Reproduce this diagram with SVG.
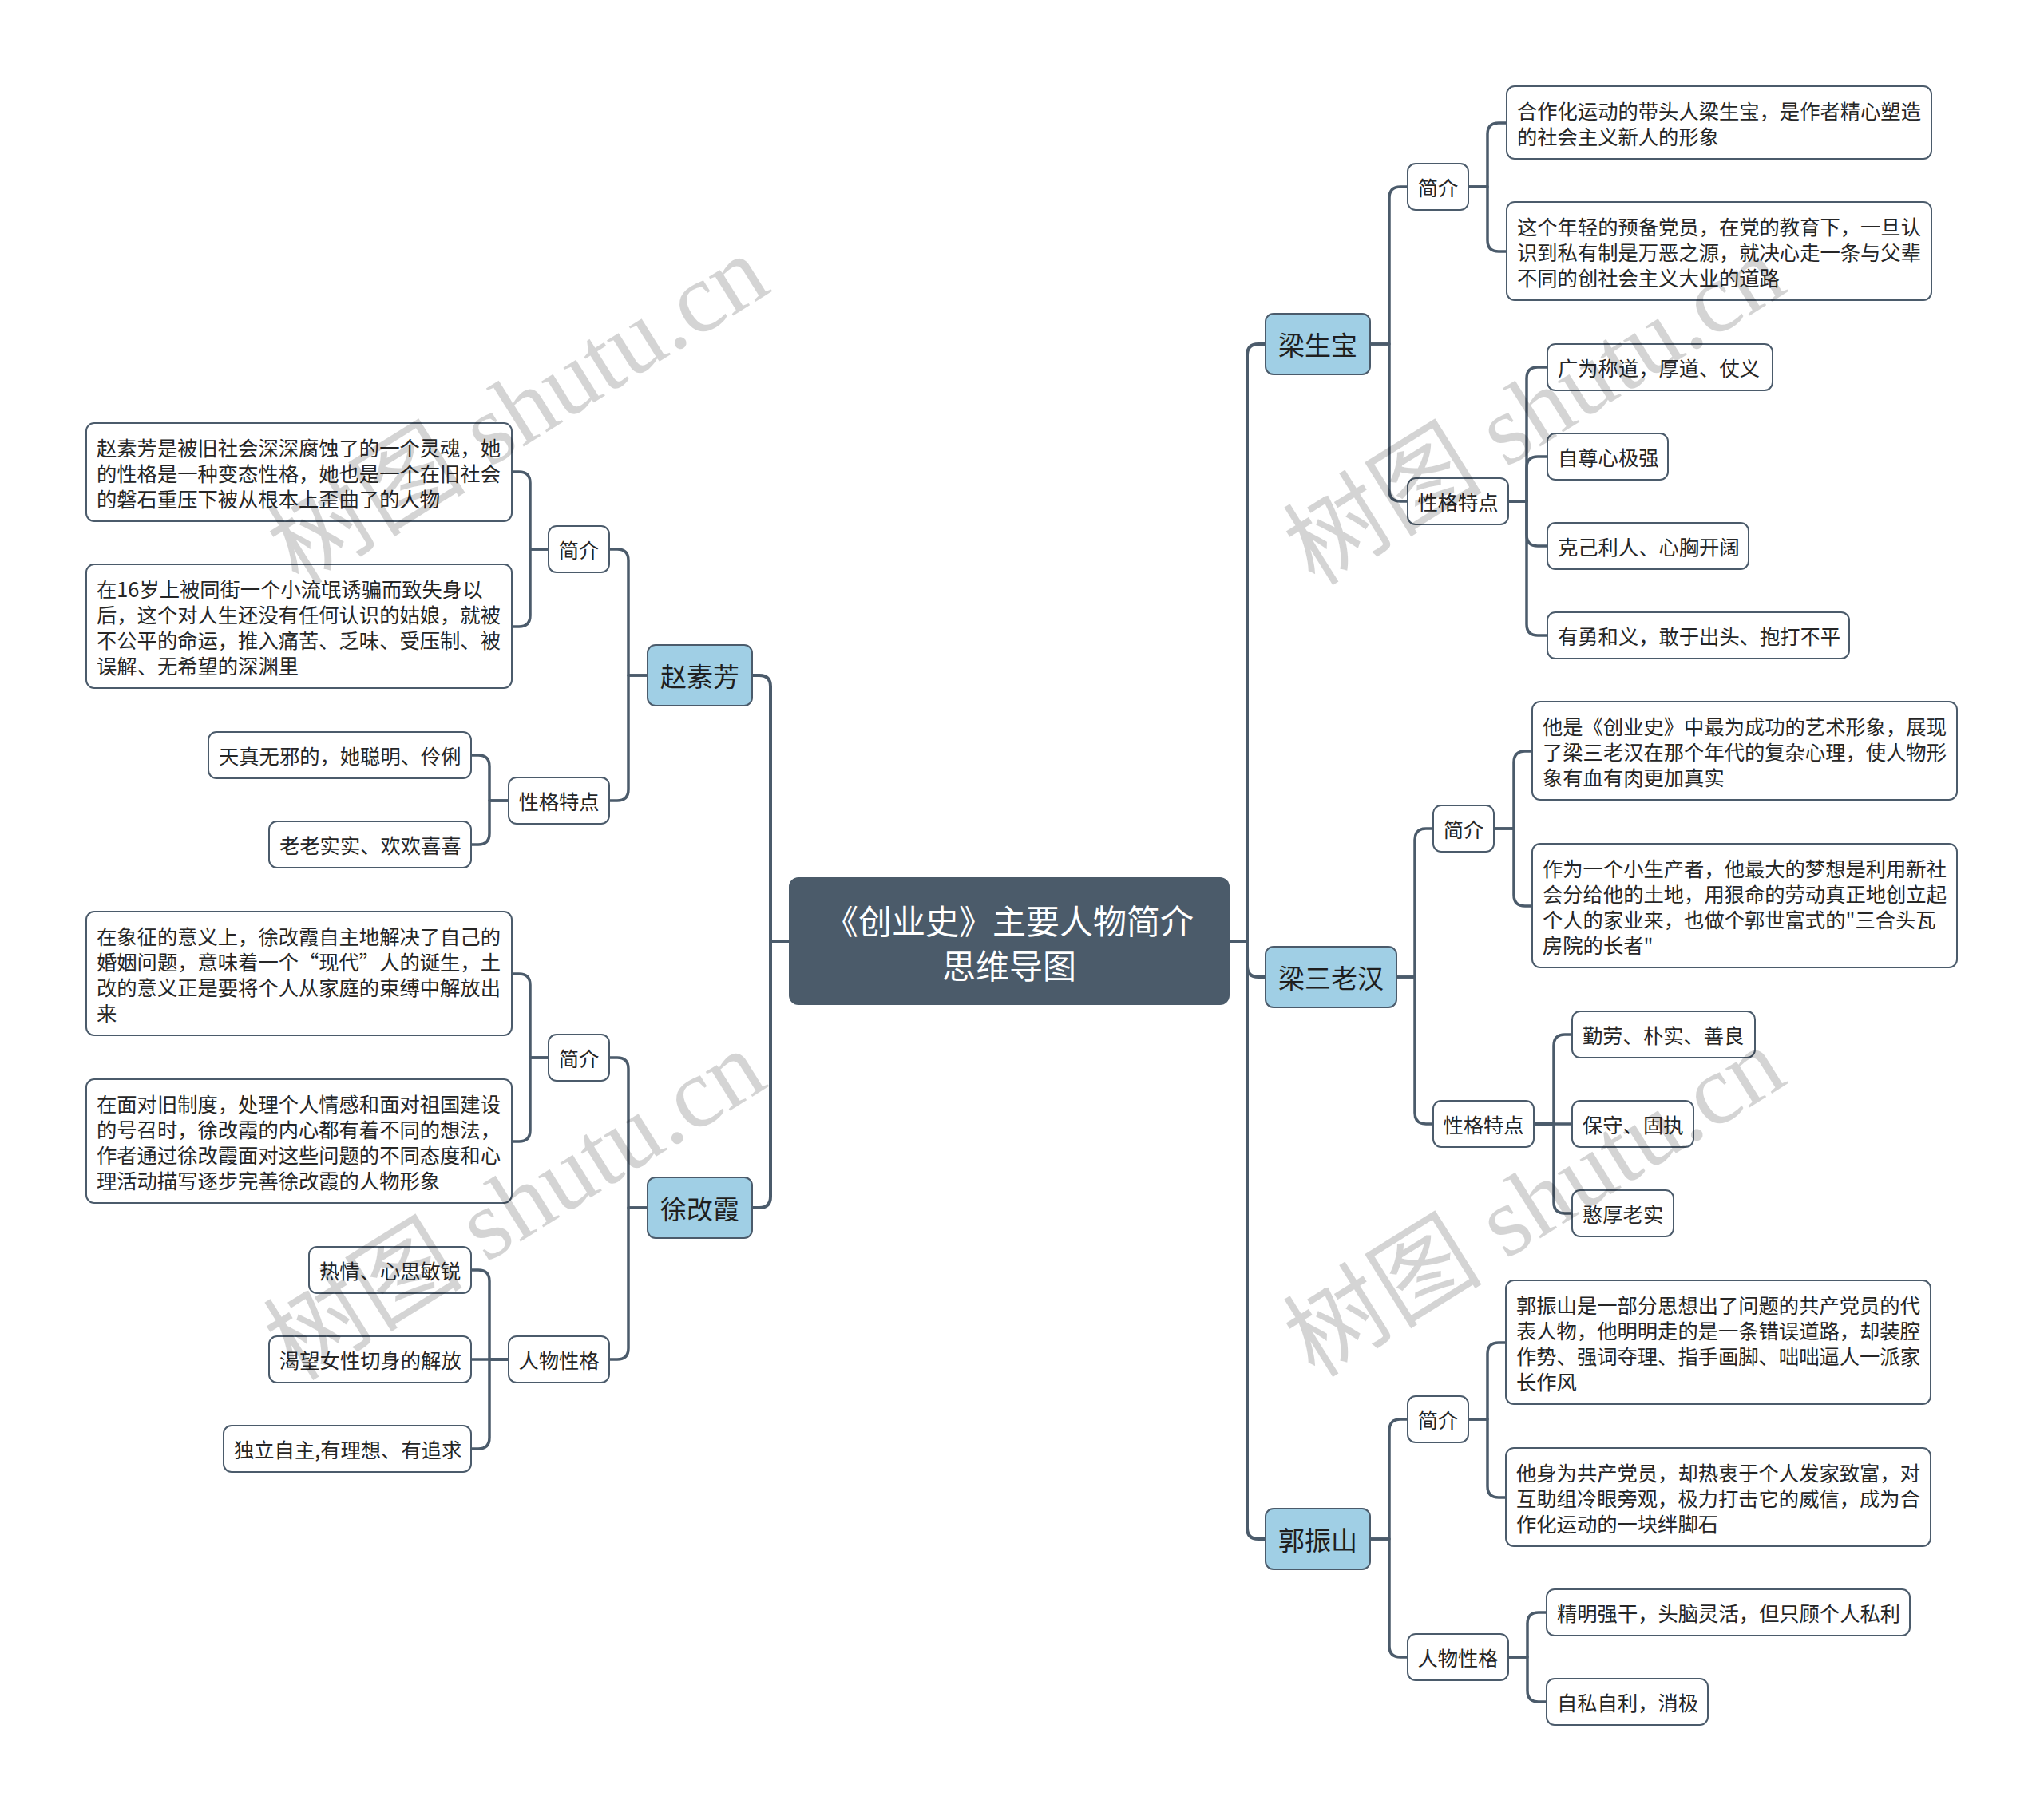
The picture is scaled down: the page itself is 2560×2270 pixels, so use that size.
<svg xmlns="http://www.w3.org/2000/svg" width="2560" height="2270" viewBox="0 0 2560 2270">
<style>
.bg{fill:#ffffff}
.conn path{fill:none;stroke:#4b5b6b;stroke-width:3.5;stroke-linejoin:round}
.conn path.trunk{stroke-width:4}
.leaf rect,.sub rect{fill:#ffffff;stroke:#4b5b6b;stroke-width:2}
.main rect{fill:#a0cfe5;stroke:#4b5b6b;stroke-width:2}
.root rect{fill:#4b5b6a}
text{font-family:"Noto Sans CJK SC","Noto Sans",sans-serif;dominant-baseline:central}
.t{font-size:25.3px;fill:#262626}
.c{text-anchor:middle}
.m{font-size:33px;fill:#1f1f1f;text-anchor:middle}
.r{font-size:42px;fill:#ffffff;text-anchor:middle}
.wm{font-family:"Liberation Serif","Noto Sans CJK SC",serif;font-size:125px;fill:#000000;fill-opacity:0.17;text-anchor:middle}
</style>
<rect class="bg" x="0" y="0" width="2560" height="2270"/>

<g id="connectors" class="conn">
<path class="trunk" d="M1540 1179 H1562 V445 Q1562 431 1576 431 H1585"/>
<path class="trunk" d="M1540 1179 H1562 V1210 Q1562 1224 1576 1224 H1585"/>
<path class="trunk" d="M1540 1179 H1562 V1914 Q1562 1928 1576 1928 H1585"/>
<path class="trunk" d="M988 1179 H965 V860 Q965 846 951 846 H942"/>
<path class="trunk" d="M988 1179 H965 V1499 Q965 1513 951 1513 H942"/>

<path d="M1716 431 H1740 V248 Q1740 234 1754 234 H1763"/>
<path d="M1716 431 H1740 V614 Q1740 628 1754 628 H1763"/>
<path d="M1839 234 H1863 V168 Q1863 154 1877 154 H1887"/>
<path d="M1839 234 H1863 V301 Q1863 315 1877 315 H1887"/>
<path d="M1889 628 H1912 V474 Q1912 460 1926 460 H1938"/>
<path d="M1889 628 H1912 V586 Q1912 572 1926 572 H1938"/>
<path d="M1889 628 H1912 V670 Q1912 684 1926 684 H1938"/>
<path d="M1889 628 H1912 V782 Q1912 796 1926 796 H1938"/>

<path d="M1749 1224 H1772 V1052 Q1772 1038 1786 1038 H1795"/>
<path d="M1749 1224 H1772 V1394 Q1772 1408 1786 1408 H1795"/>
<path d="M1871 1038 H1896 V955 Q1896 941 1910 941 H1919"/>
<path d="M1871 1038 H1896 V1121 Q1896 1135 1910 1135 H1919"/>
<path d="M1921 1408 H1946 V1310 Q1946 1296 1960 1296 H1969"/>
<path d="M1921 1408 H1969"/>
<path d="M1921 1408 H1946 V1506 Q1946 1520 1960 1520 H1969"/>

<path d="M1716 1928 H1740 V1792 Q1740 1778 1754 1778 H1763"/>
<path d="M1716 1928 H1740 V2062 Q1740 2076 1754 2076 H1763"/>
<path d="M1839 1778 H1863 V1696 Q1863 1682 1877 1682 H1886"/>
<path d="M1839 1778 H1863 V1862 Q1863 1876 1877 1876 H1886"/>
<path d="M1889 2076 H1913 V2034 Q1913 2020 1927 2020 H1937"/>
<path d="M1889 2076 H1913 V2118 Q1913 2132 1927 2132 H1937"/>

<path d="M811 846 H787 V702 Q787 688 773 688 H763"/>
<path d="M811 846 H787 V989 Q787 1003 773 1003 H763"/>
<path d="M687 688 H664 V605 Q664 591 650 591 H641"/>
<path d="M687 688 H664 V771 Q664 785 650 785 H641"/>
<path d="M637 1003 H613 V960 Q613 946 599 946 H590"/>
<path d="M637 1003 H613 V1044 Q613 1058 599 1058 H590"/>

<path d="M811 1513 H787 V1339 Q787 1325 773 1325 H763"/>
<path d="M811 1513 H787 V1689 Q787 1703 773 1703 H763"/>
<path d="M687 1325 H664 V1234 Q664 1220 650 1220 H641"/>
<path d="M687 1325 H664 V1416 Q664 1430 650 1430 H641"/>
<path d="M637 1703 H613 V1605 Q613 1591 599 1591 H590"/>
<path d="M637 1703 H590"/>
<path d="M637 1703 H613 V1801 Q613 1815 599 1815 H590"/>
</g>

<g id="root" class="root">
<rect x="988" y="1099" width="552" height="160" rx="12"/>
<text class="r"><tspan x="1264" y="1151">《创业史》主要人物简介</tspan><tspan x="1264" y="1207">思维导图</tspan></text>
</g>

<g id="n-lsb" class="main"><rect x="1585" y="393" width="131" height="76" rx="10"/><text class="m" x="1650.5" y="431">梁生宝</text></g>
<g id="n-lsl" class="main"><rect x="1585" y="1186" width="164" height="76" rx="10"/><text class="m" x="1667" y="1224">梁三老汉</text></g>
<g id="n-gzs" class="main"><rect x="1585" y="1890" width="131" height="76" rx="10"/><text class="m" x="1650.5" y="1928">郭振山</text></g>
<g id="n-zsf" class="main"><rect x="811" y="808" width="131" height="76" rx="10"/><text class="m" x="876.5" y="846">赵素芳</text></g>
<g id="n-xgx" class="main"><rect x="811" y="1475" width="131" height="76" rx="10"/><text class="m" x="876.5" y="1513">徐改霞</text></g>

<g id="n-lsb-jj" class="sub"><rect x="1763" y="205" width="76" height="58" rx="10"/><text class="t c" x="1801" y="234">简介</text></g>
<g id="n-lsb-xg" class="sub"><rect x="1763" y="599" width="126" height="58" rx="10"/><text class="t c" x="1826" y="628">性格特点</text></g>
<g id="n-lsl-jj" class="sub"><rect x="1795" y="1009" width="76" height="58" rx="10"/><text class="t c" x="1833" y="1038">简介</text></g>
<g id="n-lsl-xg" class="sub"><rect x="1795" y="1379" width="126" height="58" rx="10"/><text class="t c" x="1858" y="1408">性格特点</text></g>
<g id="n-gzs-jj" class="sub"><rect x="1763" y="1749" width="76" height="58" rx="10"/><text class="t c" x="1801" y="1778">简介</text></g>
<g id="n-gzs-rw" class="sub"><rect x="1763" y="2047" width="126" height="58" rx="10"/><text class="t c" x="1826" y="2076">人物性格</text></g>
<g id="n-zsf-jj" class="sub"><rect x="687" y="659" width="76" height="58" rx="10"/><text class="t c" x="725" y="688">简介</text></g>
<g id="n-zsf-xg" class="sub"><rect x="637" y="974" width="126" height="58" rx="10"/><text class="t c" x="700" y="1003">性格特点</text></g>
<g id="n-xgx-jj" class="sub"><rect x="687" y="1296" width="76" height="58" rx="10"/><text class="t c" x="725" y="1325">简介</text></g>
<g id="n-xgx-rw" class="sub"><rect x="637" y="1674" width="126" height="58" rx="10"/><text class="t c" x="700" y="1703">人物性格</text></g>

<g id="l-lsb-1" class="leaf"><rect x="1887" y="108" width="532" height="91" rx="10"/><text class="t"><tspan x="1900" y="138">合作化运动的带头人梁生宝，是作者精心塑造</tspan><tspan x="1900" y="170">的社会主义新人的形象</tspan></text></g>
<g id="l-lsb-2" class="leaf"><rect x="1887" y="253" width="532" height="123" rx="10"/><text class="t"><tspan x="1900" y="283">这个年轻的预备党员，在党的教育下，一旦认</tspan><tspan x="1900" y="315">识到私有制是万恶之源，就决心走一条与父辈</tspan><tspan x="1900" y="347">不同的创社会主义大业的道路</tspan></text></g>
<g id="l-lsb-3" class="leaf"><rect x="1938" y="431" width="282" height="58" rx="10"/><text class="t" x="1951" y="460">广为称道，厚道、仗义</text></g>
<g id="l-lsb-4" class="leaf"><rect x="1938" y="543" width="151" height="58" rx="10"/><text class="t" x="1951" y="572">自尊心极强</text></g>
<g id="l-lsb-5" class="leaf"><rect x="1938" y="655" width="252" height="58" rx="10"/><text class="t" x="1951" y="684">克己利人、心胸开阔</text></g>
<g id="l-lsb-6" class="leaf"><rect x="1938" y="767" width="378" height="58" rx="10"/><text class="t" x="1951" y="796">有勇和义，敢于出头、抱打不平</text></g>

<g id="l-lsl-1" class="leaf"><rect x="1919" y="879" width="532" height="123" rx="10"/><text class="t"><tspan x="1932" y="909">他是《创业史》中最为成功的艺术形象，展现</tspan><tspan x="1932" y="941">了梁三老汉在那个年代的复杂心理，使人物形</tspan><tspan x="1932" y="973">象有血有肉更加真实</tspan></text></g>
<g id="l-lsl-2" class="leaf"><rect x="1919" y="1057" width="532" height="155" rx="10"/><text class="t"><tspan x="1932" y="1087">作为一个小生产者，他最大的梦想是利用新社</tspan><tspan x="1932" y="1119">会分给他的土地，用狠命的劳动真正地创立起</tspan><tspan x="1932" y="1151">个人的家业来，也做个郭世富式的"三合头瓦</tspan><tspan x="1932" y="1183">房院的长者"</tspan></text></g>
<g id="l-lsl-3" class="leaf"><rect x="1969" y="1267" width="229" height="58" rx="10"/><text class="t" x="1982" y="1296">勤劳、朴实、善良</text></g>
<g id="l-lsl-4" class="leaf"><rect x="1969" y="1379" width="152" height="58" rx="10"/><text class="t" x="1982" y="1408">保守、固执</text></g>
<g id="l-lsl-5" class="leaf"><rect x="1969" y="1491" width="127" height="58" rx="10"/><text class="t" x="1982" y="1520">憨厚老实</text></g>

<g id="l-gzs-1" class="leaf"><rect x="1886" y="1604" width="532" height="155" rx="10"/><text class="t"><tspan x="1899" y="1634">郭振山是一部分思想出了问题的共产党员的代</tspan><tspan x="1899" y="1666">表人物，他明明走的是一条错误道路，却装腔</tspan><tspan x="1899" y="1698">作势、强词夺理、指手画脚、咄咄逼人一派家</tspan><tspan x="1899" y="1730">长作风</tspan></text></g>
<g id="l-gzs-2" class="leaf"><rect x="1886" y="1814" width="532" height="123" rx="10"/><text class="t"><tspan x="1899" y="1844">他身为共产党员，却热衷于个人发家致富，对</tspan><tspan x="1899" y="1876">互助组冷眼旁观，极力打击它的威信，成为合</tspan><tspan x="1899" y="1908">作化运动的一块绊脚石</tspan></text></g>
<g id="l-gzs-3" class="leaf"><rect x="1937" y="1991" width="455" height="58" rx="10"/><text class="t" x="1950" y="2020">精明强干，头脑灵活，但只顾个人私利</text></g>
<g id="l-gzs-4" class="leaf"><rect x="1937" y="2103" width="202" height="58" rx="10"/><text class="t" x="1950" y="2132">自私自利，消极</text></g>

<g id="l-zsf-1" class="leaf"><rect x="108" y="530" width="533" height="123" rx="10"/><text class="t"><tspan x="121" y="560">赵素芳是被旧社会深深腐蚀了的一个灵魂，她</tspan><tspan x="121" y="592">的性格是一种变态性格，她也是一个在旧社会</tspan><tspan x="121" y="624">的磐石重压下被从根本上歪曲了的人物</tspan></text></g>
<g id="l-zsf-2" class="leaf"><rect x="108" y="707" width="533" height="155" rx="10"/><text class="t"><tspan x="121" y="737">在16岁上被同街一个小流氓诱骗而致失身以</tspan><tspan x="121" y="769">后，这个对人生还没有任何认识的姑娘，就被</tspan><tspan x="121" y="801">不公平的命运，推入痛苦、乏味、受压制、被</tspan><tspan x="121" y="833">误解、无希望的深渊里</tspan></text></g>
<g id="l-zsf-3" class="leaf"><rect x="261" y="917" width="329" height="58" rx="10"/><text class="t" x="274" y="946">天真无邪的，她聪明、伶俐</text></g>
<g id="l-zsf-4" class="leaf"><rect x="337" y="1029" width="253" height="58" rx="10"/><text class="t" x="350" y="1058">老老实实、欢欢喜喜</text></g>

<g id="l-xgx-1" class="leaf"><rect x="108" y="1142" width="533" height="155" rx="10"/><text class="t"><tspan x="121" y="1172">在象征的意义上，徐改霞自主地解决了自己的</tspan><tspan x="121" y="1204">婚姻问题，意味着一个“现代”人的诞生，土</tspan><tspan x="121" y="1236">改的意义正是要将个人从家庭的束缚中解放出</tspan><tspan x="121" y="1268">来</tspan></text></g>
<g id="l-xgx-2" class="leaf"><rect x="108" y="1352" width="533" height="155" rx="10"/><text class="t"><tspan x="121" y="1382">在面对旧制度，处理个人情感和面对祖国建设</tspan><tspan x="121" y="1414">的号召时，徐改霞的内心都有着不同的想法，</tspan><tspan x="121" y="1446">作者通过徐改霞面对这些问题的不同态度和心</tspan><tspan x="121" y="1478">理活动描写逐步完善徐改霞的人物形象</tspan></text></g>
<g id="l-xgx-3" class="leaf"><rect x="387" y="1562" width="203" height="58" rx="10"/><text class="t" x="400" y="1591">热情、心思敏锐</text></g>
<g id="l-xgx-4" class="leaf"><rect x="337" y="1674" width="253" height="58" rx="10"/><text class="t" x="350" y="1703">渴望女性切身的解放</text></g>
<g id="l-xgx-5" class="leaf"><rect x="280" y="1786" width="310" height="58" rx="10"/><text class="t" x="293" y="1815">独立自主,有理想、有追求</text></g>

<g id="watermarks">
<text class="wm" transform="translate(649 514) rotate(-32)" x="0" y="0">树图 shutu.cn</text>
<text class="wm" transform="translate(645 1510) rotate(-32)" x="0" y="0">树图 shutu.cn</text>
<text class="wm" transform="translate(1922 514) rotate(-32)" x="0" y="0">树图 shutu.cn</text>
<text class="wm" transform="translate(1922 1506) rotate(-32)" x="0" y="0">树图 shutu.cn</text>
</g>
</svg>
